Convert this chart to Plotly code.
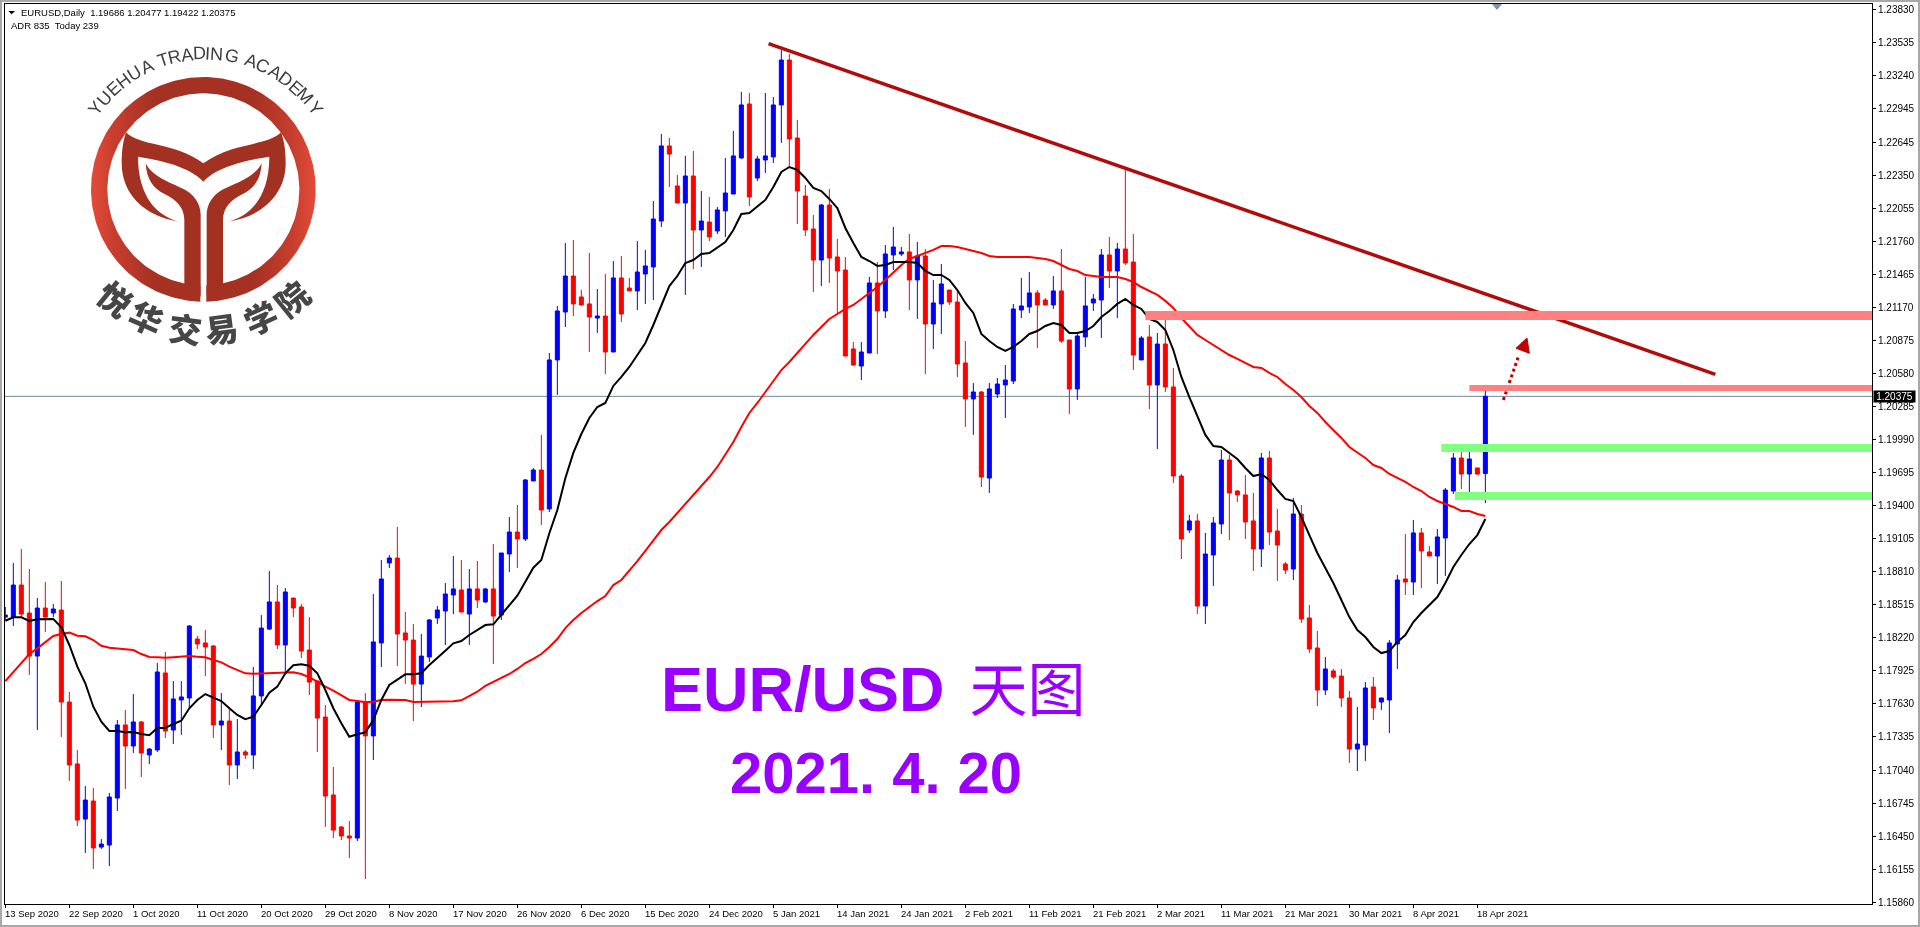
import numpy as np
import plotly.graph_objects as go

# ---- data: prices in points (1 point = 0.00001) ----
POINT = 0.00001
candle_dirs = ("BBRRBRBRRR" "BRBBBRBRBB" "RBBBRRRBRB" "RBBBRBRRRR" "RRRRBRBBBR" "RRBBBBBRBR"
               "BRBBRBBRBB" "BRRRBRBRRB" "BBBRRBRBRB" "BBBRBBBBRR" "RRBRRRRBBR" "BBBRBRBBRR"
               "RBRBBBBBBR" "RBRRBBBBRB" "RRBRBRRRBR" "BBBRRRRBRR" "RBRRRBRRRB" "BRBBBRBRRB" "BBRBRB")
high_pts = [118495,118888,119013,118834,118575,118718,118521,118727,117736,117219,116897,116879,116424,116835,117486,117576,117718,117477,117236,117995,
 118093,117834,117834,118334,118236,118289,118156,117727,117602,117495,117219,117959,118423,118816,118691,118664,118575,118521,118405,117834,
 117620,117067,116540,116585,117647,117727,118611,118915,118959,119209,118450,118343,118254,118388,118504,118709,118950,118915,118834,118906,
 118664,119057,118977,119298,119405,119637,119736,120031,120762,121182,121744,121771,121324,121655,121333,121467,121583,121628,121432,121762,
 121682,122119,122717,122681,122351,122521,122565,122208,122155,122065,122503,122744,123092,123083,122521,123083,123047,123467,123431,122842,
 122262,121994,122092,122226,121780,121619,120860,120860,121441,121574,121726,121887,121708,121824,121753,121690,121414,121557,121324,121324,
 120869,120494,120423,120494,120539,120655,121200,121432,121485,121324,121253,121449,121690,120878,120941,121441,121289,121690,121798,121744,
 122405,121824,120914,121012,120941,121128,120628,119682,119316,119325,119156,119298,119896,119852,119539,119673,119513,119870,119887,119370,
 118897,119468,119405,118513,118281,118049,117942,117942,117745,117602,117825,117870,117683,118200,118781,119147,119272,119200,119039,119191,
 119557,119870,119932,119950,119736,120477]
body_top_pts = [118423,118691,118691,118441,118486,118486,118477,118468,117647,117094,116772,116763,116379,116799,117442,117442,117469,117469,117227,117915,
 117906,117674,117692,118325,118209,118174,118147,117477,117477,117201,117201,117701,118307,118540,118540,118629,118575,118495,118111,117834,
 117513,116817,116531,116451,117647,117647,118183,118745,118932,118932,118263,118200,118057,118379,118468,118611,118656,118647,118656,118656,
 118656,118656,118977,119164,119164,119629,119718,119718,120700,121137,121449,121449,121262,121200,121092,121092,121432,121432,121342,121485,
 121539,121958,122610,122610,122253,122342,122342,121940,121931,122039,122190,122521,122976,122985,122494,122521,122976,123377,123377,122681,
 122163,121869,122083,122083,121619,121503,120798,120771,121387,121387,121646,121708,121664,121664,121628,121628,121209,121378,121324,121217,
 120673,120414,120414,120441,120485,120521,121155,121182,121298,121298,121235,121316,121316,120878,120914,121182,121244,121637,121637,121690,
 121690,121574,120896,120905,120842,120842,120459,119664,119263,119263,118968,119245,119807,119807,119530,119495,119263,119825,119825,119173,
 118879,119325,119325,118397,118129,117942,117924,117879,117683,117272,117772,117781,117683,118174,118736,118745,119156,119156,118986,119120,
 119539,119825,119825,119816,119736,120375]
body_bot_pts = [118405,118405,118432,118057,118057,118405,118441,117647,117085,116593,116602,116344,116352,116370,116790,117254,117254,117192,117174,117219,
 117388,117397,117665,117683,118165,118138,117442,117442,117085,117085,117174,117174,117701,118298,118156,118156,118486,118102,117825,117504,
 116808,116504,116451,116433,116433,117344,117344,118174,118888,118254,118200,117807,117807,118049,118397,118459,118602,118450,118432,118557,
 118540,118414,118423,118968,119102,119102,119620,119361,119370,120700,121128,121200,121191,121083,121074,120771,120771,121110,121316,121316,
 121467,121530,121940,122538,122101,122101,121860,121860,121798,121851,122030,122181,122503,122155,122324,122485,122512,122976,122672,122208,
 121860,121592,121592,121610,121494,120735,120655,120646,120762,121137,121137,121637,121646,121414,121414,121021,121021,121200,121217,120664,
 120352,120352,119655,119646,120396,120477,120512,121146,121173,121191,121191,121191,120869,120441,120441,120905,121209,121235,121494,121494,
 121565,120744,120700,120477,120477,120459,119664,119102,119182,118504,118504,118959,119236,119513,119495,119254,119013,119013,119164,119048,
 118825,118834,118388,118120,117754,117754,117870,117683,117227,117227,117263,117594,117647,117665,118165,118718,118718,118995,118950,118950,
 119111,119530,119682,119682,119682,119686]
low_pts = [118379,118325,118405,117888,117397,118271,118405,117335,116942,116540,116299,116156,116335,116183,116674,116870,117192,116978,117094,117201,
 117326,117272,117353,117594,118120,117879,117326,117219,116906,116960,117138,117049,117620,118289,118120,117906,118405,118040,117709,117201,
 116531,116433,116415,116255,116406,116067,117129,117959,118843,117968,117807,117477,117602,118004,118343,118156,118432,118450,118156,118486,
 118531,117986,118379,118807,118843,119084,119620,119227,119343,120387,120994,121092,121182,120771,120941,120575,120771,121039,121316,121146,
 121200,121235,121887,122244,122101,121280,121512,121530,121762,121824,121798,122181,122494,122074,122297,122369,122458,122637,122431,121914,
 121806,121307,121360,121387,121110,120735,120646,120521,120762,120753,121074,121503,121628,121146,121066,120575,120798,120932,121191,120548,
 120102,120031,119566,119513,120361,120182,120485,121074,121119,120807,121191,121155,120851,120218,120343,120816,121137,120896,121342,121074,
 121548,120610,120700,120262,119905,120414,119602,118923,119156,118432,118343,118682,119147,119093,119432,119102,118816,118852,119048,118727,
 118789,118736,118352,118084,117611,117709,117852,117602,117103,117031,117120,117486,117576,117370,117942,118602,118602,118664,118950,118700,
 118772,119504,119548,119495,119673,119422]
ma_fast_pts = [118372,118403,118403,118370,118385,118388,118388,118314,118156,117962,117814,117605,117471,117388,117388,117376,117379,117361,117350,117415,
 117415,117451,117480,117591,117665,117718,117685,117656,117591,117531,117493,117516,117620,117730,117784,117903,117975,117984,117971,117903,
 117754,117591,117457,117337,117359,117376,117486,117665,117799,117850,117894,117894,117903,117977,118037,118105,118171,118191,118245,118289,
 118334,118340,118423,118513,118596,118721,118846,118915,119153,119361,119644,119870,120039,120182,120280,120316,120468,120548,120637,120744,
 120851,121012,121191,121360,121449,121565,121592,121646,121655,121708,121753,121860,122003,122012,122074,122128,122244,122378,122422,122396,
 122324,122235,122208,122137,122056,121878,121744,121619,121583,121539,121548,121574,121574,121574,121565,121494,121458,121458,121414,121324,
 121209,121119,120932,120869,120816,120780,120816,120869,120932,120958,121003,121030,121012,120941,120941,120958,121003,121083,121137,121200,
 121244,121191,121155,121066,121039,120967,120789,120548,120369,120191,120031,119932,119923,119870,119816,119736,119664,119682,119629,119539,
 119459,119441,119298,119137,118977,118843,118709,118557,118405,118289,118227,118138,118084,118102,118183,118245,118361,118441,118513,118584,
 118709,118852,118959,119057,119137,119280]
ma_slow_pts = [117834,117917,117998,118075,118126,118185,118236,118254,118266,118239,118233,118200,118149,118132,118126,118117,118111,118075,118049,118046,
 118042,118046,118049,118057,118051,118046,118022,118001,117962,117933,117903,117900,117903,117908,117908,117908,117912,117897,117867,117828,
 117784,117748,117709,117665,117656,117644,117650,117665,117667,117667,117665,117647,117647,117650,117653,117653,117653,117662,117701,117739,
 117790,117825,117861,117897,117942,117995,118031,118075,118138,118209,118307,118379,118441,118495,118548,118593,118691,118736,118816,118905,
 118995,119084,119182,119254,119334,119423,119495,119575,119655,119745,119852,119968,120102,120227,120316,120414,120503,120610,120682,120762,
 120851,120923,120994,121066,121110,121155,121191,121244,121298,121351,121414,121485,121548,121601,121628,121655,121682,121717,121717,121708,
 121690,121673,121655,121628,121619,121619,121619,121619,121619,121610,121601,121583,121548,121512,121494,121458,121449,121441,121441,121441,
 121423,121396,121351,121316,121280,121227,121164,121074,120994,120923,120878,120834,120789,120744,120709,120673,120637,120628,120584,120548,
 120485,120432,120369,120289,120227,120146,120075,120004,119923,119870,119825,119762,119736,119682,119646,119611,119566,119530,119477,119441,
 119414,119388,119352,119352,119325,119307]
price_ticks = ["1.23830","1.23535","1.23240","1.22945","1.22645","1.22350","1.22055","1.21760","1.21465","1.21170","1.20875","1.20580","1.20285","1.19990",
 "1.19695","1.19400","1.19105","1.18810","1.18515","1.18220","1.17925","1.17630","1.17335","1.17040","1.16745","1.16450","1.16155","1.15860"]
date_labels = ["13 Sep 2020","22 Sep 2020","1 Oct 2020","11 Oct 2020","20 Oct 2020","29 Oct 2020","8 Nov 2020","17 Nov 2020","26 Nov 2020","6 Dec 2020",
 "15 Dec 2020","24 Dec 2020","5 Jan 2021","14 Jan 2021","24 Jan 2021","2 Feb 2021","11 Feb 2021","21 Feb 2021","2 Mar 2021","11 Mar 2021","21 Mar 2021",
 "30 Mar 2021","8 Apr 2021","18 Apr 2021"]
last_price = 1.20375
trend_x = [95.4, 213.75]
trend_y = [1.23523, 1.20572]
arrow_x = [187.25, 189.2]
arrow_y = [1.20343, 1.20744]
arrow_head_x = [190.2, 188.83, 190.5, 190.2]
arrow_head_y = [1.20896, 1.20804, 1.20760, 1.20896]
zones = [(142.5, 1.21137, 1.21057, "#FF8080"), (183.0, 1.20477, 1.20423, "#FF8080"),
         (179.5, 1.19950, 1.19878, "#80FF80"), (181.2, 1.19522, 1.19450, "#80FF80")]

# ---- derived ----
idx = list(range(len(high_pts)))
pr = lambda a: [round(v * POINT, 5) for v in a]
H, T, B, L = pr(high_pts), pr(body_top_pts), pr(body_bot_pts), pr(low_pts)
O = [b if d == "B" else t for d, t, b in zip(candle_dirs, T, B)]
C = [t if d == "B" else b for d, t, b in zip(candle_dirs, T, B)]

FONT = "Liberation Sans"
Y_TOP, Y_BOT = 1.23877, 1.15844
fig = go.Figure()
fig.add_trace(go.Candlestick(x=idx, open=O, high=H, low=L, close=C, whiskerwidth=0,
    increasing=dict(line=dict(color="#0000FF", width=1), fillcolor="#0000FF"),
    decreasing=dict(line=dict(color="#FF0000", width=1), fillcolor="#FF0000"),
    hoverinfo="skip", name="EURUSD"))
fig.add_trace(go.Scatter(x=idx, y=pr(ma_slow_pts), mode="lines", line=dict(color="#FF0000", width=2), name="MA slow"))
fig.add_trace(go.Scatter(x=idx, y=pr(ma_fast_pts), mode="lines", line=dict(color="#000000", width=2), name="MA fast"))
fig.add_trace(go.Scatter(x=trend_x, y=trend_y, mode="lines", line=dict(color="#B00C0C", width=3.5), name="trend"))
fig.add_trace(go.Scatter(x=arrow_x, y=arrow_y, mode="lines", line=dict(color="#C00000", width=3, dash="3px,3px"), name="arrow"))
fig.add_trace(go.Scatter(x=arrow_head_x, y=arrow_head_y, mode="lines", fill="toself", fillcolor="#C00000",
                         line=dict(color="#C00000", width=1), name="arrow head"))

# ---- logo, drawn on a hidden overlay whose units are 1/3 px ----
cx, cy, R1, R2, gap = 610, 568, 337, 288, 9
t1 = np.radians(np.linspace(180 + np.degrees(np.arcsin(gap / R1)), 540 - np.degrees(np.arcsin(gap / R1)), 240))
t2 = np.radians(np.linspace(540 - np.degrees(np.arcsin(gap / R2)), 180 + np.degrees(np.arcsin(gap / R2)), 240))
rx = np.r_[cx + R1 * np.sin(t1), cx + R2 * np.sin(t2)]
ry = np.r_[cy - R1 * np.cos(t1), cy - R2 * np.cos(t2)]
fig.add_trace(go.Scatter(x=rx, y=ry, xaxis="x2", yaxis="y2", mode="lines", line=dict(width=0), fill="toself",
    fillgradient=dict(type="horizontal", colorscale=[[0, "#E44B39"], [0.1, "#C83E2E"], [0.28, "#A53123"], [0.72, "#A53123"], [0.9, "#C83E2E"], [1, "#E44B39"]]),
    hoverinfo="skip", name="logo"))

LOGO = "#A33122"
shapes = []
def logo_path(p, color=LOGO):
    shapes.append(dict(type="path", path=p, xref="x2", yref="y2", fillcolor=color, line=dict(width=0), layer="below"))
logo_path("M378,397 C420,440 520,425 610,490 C700,425 800,440 843,397 C852,420 857,450 857,490 C857,580 790,650 682,665 "
          "C750,650 808,590 808,470 C740,480 650,500 610,545 C570,500 480,480 414,470 C414,590 472,650 540,665 "
          "C430,650 365,580 365,490 C365,450 370,420 378,397 Z")
logo_path("M437,490 C460,535 520,550 560,572 C590,590 602,620 602,645 L602,885 Q602,903 570,903 L553,880 L553,660 "
          "C553,620 525,598 495,583 C460,565 440,540 437,490 Z")
logo_path("M785,490 C762,535 702,550 662,572 C632,590 620,620 620,645 L620,885 Q620,903 652,903 L669,880 L669,660 "
          "C669,620 697,598 727,583 C762,565 782,540 785,490 Z")
logo_path("M25,33 L45,33 L35,43 Z", "#000000")
logo_path("M4476,12 L4506,12 L4491,30 Z", "#8292A8")

def px_x(p): return (p - 5) / 1867
def px_y(p): return (904 - p) / 900
for x0, y0, x1, y1 in [(0, 0, 1920, 2), (0, 0, 2, 927), (0, 925, 1920, 927), (1918, 0, 1920, 927)]:
    shapes.append(dict(type="rect", xref="paper", yref="paper", x0=px_x(x0), x1=px_x(x1), y0=px_y(y0), y1=px_y(y1),
                       fillcolor="#A8A8A8", line=dict(width=0), layer="below"))
shapes.append(dict(type="line", xref="paper", yref="y", x0=0, x1=1, y0=last_price, y1=last_price,
                   line=dict(color="#778899", width=1), layer="below"))
for x0, y0, y1, col in zones:
    shapes.append(dict(type="rect", xref="x", yref="y", x0=x0, x1=233.33, y0=y0, y1=y1,
                       fillcolor=col, line=dict(width=0), layer="above"))

ann = []
def note(text, x, y, size, color="#000000", family=FONT, anchor="center", angle=0, bold=False, xref="x2", yref="y2", weight=None, **kw):
    ann.append(dict(text=text, x=x, y=y, xref=xref, yref=yref, showarrow=False, xanchor=anchor, yanchor="middle",
                    textangle=angle, borderpad=0, font=dict(family=family, size=size, color=color,
                    weight=weight if weight else ("bold" if bold else "normal")), **kw))

# ring title (the narrow I travels with its neighbour N)
letter_w = {"Y": .667, "U": .722, "E": .667, "H": .722, "A": .667, "T": .611, "R": .722, "D": .722, "IN": 1.0, "G": .778, "C": .722, "M": .833, " ": .278}
title = ["Y", "U", "E", "H", "U", "A", " ", "T", "R", "A", "D", "IN", "G", " ", "A", "C", "A", "D", "E", "M", "Y"]
w = [letter_w[c] for c in title]
span = sum(w) - w[0] / 2 - w[-1] / 2
pos = w[0] / 2
for c, wi in zip(title, w):
    a = -53.5 + 107 * (pos - w[0] / 2) / span
    pos += wi
    if c != " ":
        note(c, 617 + 408 * np.sin(np.radians(a)), cy - 408 * np.cos(np.radians(a)), 18, "#3E3E3E", angle=a)
for c, a in zip("悦华交易学院", [39, 24, 7.5, -7.5, -24, -39]):
    note(c, cx - 420 * np.sin(np.radians(a)), cy + 420 * np.cos(np.radians(a)), 33, "#464646",
         family="Noto Sans CJK SC", angle=a, weight=900)

note("EURUSD,Daily\u00a0\u00a01.19686 1.20477 1.19422 1.20375", 60, 38, 9.5, anchor="left")
note("ADR 835\u00a0\u00a0Today 239", 29, 77, 9.5, anchor="left")
note('EUR/USD<span style="font-size:90px">\u00a0</span><span style="font-weight:normal;font-size:58px">天图</span>', 2621, 145 + 1896, 63, "#9900FF",
     family="Liberation Sans, Noto Sans CJK SC", bold=True)
note('2021<span style="letter-spacing:17px">.</span>4<span style="letter-spacing:17px">.</span>20', 2628, 400 + 1917, 58, "#9900FF",
     bold=True)

for i, lab in zip(range(0, 186, 8), date_labels):
    ann.append(dict(text=lab, x=i, y=0, xref="x", yref="paper", yanchor="middle", xanchor="left", showarrow=False,
                    xshift=-1, yshift=-9, borderpad=0, font=dict(family=FONT, size=9.5, color="#000000")))
ann.append(dict(text="1.20375", x=px_x(1894), y=last_price, xref="paper", yref="y", showarrow=False, xanchor="center",
                yanchor="middle", bgcolor="#000000", width=41, height=11, borderpad=0,
                font=dict(family=FONT, size=10, color="#FFFFFF")))

fig.update_layout(
    width=1920, height=927, autosize=False, showlegend=False, paper_bgcolor="#FFFFFF", plot_bgcolor="#FFFFFF",
    margin=dict(l=5, r=48, t=4, b=23, pad=0), boxgap=0.5, boxgroupgap=0, hovermode=False,
    xaxis=dict(type="linear", range=[-0.04, 233.33], rangeslider=dict(visible=False), showgrid=False, zeroline=False,
               tickmode="array", tickvals=list(range(0, 186, 8)), showticklabels=False,
               ticks="outside", ticklen=3, tickcolor="#000000", tickwidth=1, showline=True, linecolor="#000000", linewidth=1, mirror=True),
    yaxis=dict(side="right", range=[Y_BOT, Y_TOP], showgrid=False, zeroline=False, tickmode="array",
               tickvals=[float(t) for t in price_ticks], ticktext=price_ticks, ticks="outside", ticklen=3, tickcolor="#000000",
               tickwidth=1, showline=True, linecolor="#000000", linewidth=1, mirror=True,
               tickfont=dict(family=FONT, size=10, color="#000000")),
    xaxis2=dict(overlaying="x", range=[15, 5616], visible=False),
    yaxis2=dict(overlaying="y", range=[2712, 12], visible=False),
    shapes=shapes, annotations=ann)

post = """
document.body.style.margin='0';document.body.style.overflow='hidden';
var gd=document.getElementById('{plot_id}');
function blend(){document.querySelectorAll('.layer-above .shapelayer path').forEach(function(p){p.style.mixBlendMode='multiply';});}
blend();gd.on('plotly_afterplot',blend);setTimeout(blend,200);
"""
fig.write_html("out.html", config=dict(displayModeBar=False, responsive=False), post_script=post)
